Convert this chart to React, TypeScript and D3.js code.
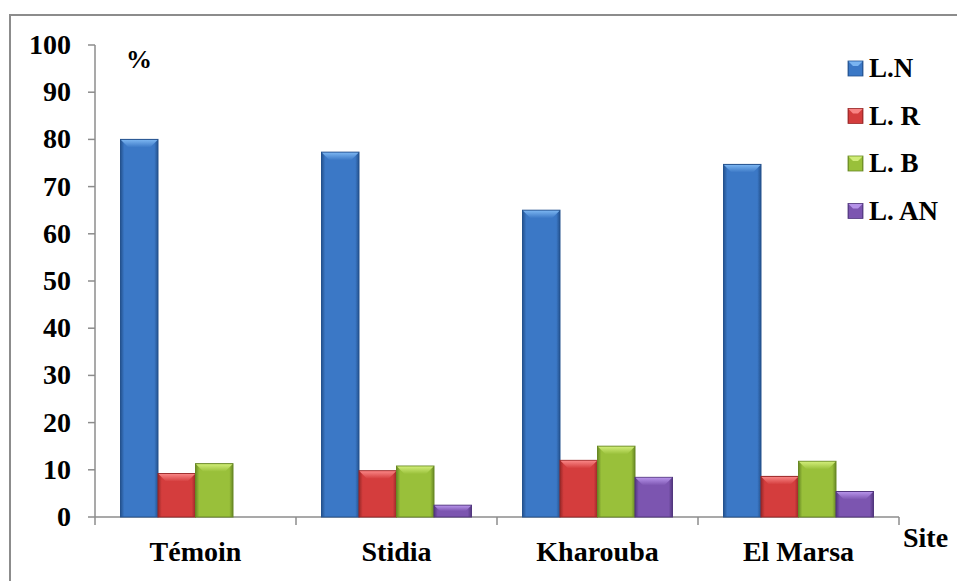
import React from 'react';
import * as d3 from 'd3';

// data
const sites = ['Témoin', 'Stidia', 'Kharouba', 'El Marsa'];
const seriesNames = ['L.N', 'L. R', 'L. B', 'L. AN'];
const valLN = [80, 77.3, 65, 74.7];
const valLR = [9.2, 9.8, 12, 8.6];
const valLB = [11.3, 10.8, 15, 11.8];
const valLAN = [0, 2.5, 8.4, 5.4];
const yTicks = [0, 10, 20, 30, 40, 50, 60, 70, 80, 90, 100];

const palettes = [
  { base: '#3b78c6', light: '#7ab4f0', dark: '#24528e' },
  { base: '#d43d3d', light: '#f88484', dark: '#9a2828' },
  { base: '#99c03a', light: '#d0ec78', dark: '#688824' },
  { base: '#7c55b0', light: '#b592e8', dark: '#52377e' },
];

const W = 957;
const H = 581;
const FONT = "'Liberation Serif', 'Times New Roman', serif";

const App = () => {
  const values = [valLN, valLR, valLB, valLAN];

  const x0 = d3.scaleBand<string>().domain(sites).range([95, 899]).padding(0);
  const x1 = d3.scaleBand<string>()
    .domain(seriesNames)
    .range([0, x0.bandwidth()])
    .paddingInner(0)
    .paddingOuter(0.68);
  const y = d3.scaleLinear().domain([0, 100]).range([517, 45]);

  const bevel = 8;
  const txt = { fontFamily: FONT, fontWeight: 700 as const };

  return (
    <svg width={W} height={H} style={{ display: 'block', position: 'absolute', left: 0, top: 0 }}>
      <defs>
        {palettes.map((p, i) => (
          <linearGradient key={i} id={`g${i}`} x1="0" x2="1" y1="0" y2="0">
            <stop offset="0" stopColor={p.dark} />
            <stop offset="0.1" stopColor={p.base} />
            <stop offset="0.5" stopColor={p.base} />
            <stop offset="0.9" stopColor={p.base} />
            <stop offset="1" stopColor={p.dark} />
          </linearGradient>
        ))}
        {palettes.map((p, i) => (
          <linearGradient key={'t' + i} id={`t${i}`} x1="0" x2="0" y1="0" y2="1">
            <stop offset="0" stopColor={p.light} />
            <stop offset="1" stopColor={p.base} />
          </linearGradient>
        ))}
      </defs>
      <rect x={0} y={0} width={W} height={H} fill="#fff" />
      {/* chart frame, only top and left visible */}
      <rect x={10} y={15} width={1000} height={700} fill="none" stroke="#8c8c8c" strokeWidth={2} />

      {/* y axis */}
      <line x1={95} x2={95} y1={y(100)} y2={y(0)} stroke="#8c8c8c" strokeWidth={1.5} />
      {yTicks.map(t => (
        <g key={t}>
          <line x1={88} x2={95} y1={y(t)} y2={y(t)} stroke="#8c8c8c" strokeWidth={1.5} />
          <text x={71} y={y(t) + 9} textAnchor="end" style={txt} fontSize={28} fill="#000">
            {t}
          </text>
        </g>
      ))}
      <text x={126} y={68} style={txt} fontSize={26}>%</text>

      {/* x axis */}
      <line x1={95} x2={899} y1={517} y2={517} stroke="#8c8c8c" strokeWidth={1.5} />
      {[...sites.map(s => x0(s) as number), 899].map((v, i) => (
        <line key={i} x1={v} x2={v} y1={517} y2={525} stroke="#8c8c8c" strokeWidth={1.5} />
      ))}
      {sites.map(s => (
        <text key={s} x={(x0(s) as number) + x0.bandwidth() / 2} y={561} textAnchor="middle"
          style={txt} fontSize={28}>
          {s}
        </text>
      ))}
      <text x={903} y={547} style={txt} fontSize={28}>Site</text>

      {/* bars */}
      {sites.map((s, si) => (
        <g key={s} transform={`translate(${x0(s)},0)`}>
          {seriesNames.map((n, ni) => {
            const v = values[ni][si];
            if (!v) return null;
            const bx = x1(n) as number;
            const bw = x1.bandwidth();
            const by = y(v);
            const bh = y(0) - by;
            const bv = Math.min(bevel, bh / 2);
            return (
              <g key={n}>
                <rect x={bx} y={by} width={bw} height={bh} fill={`url(#g${ni})`}
                  stroke={palettes[ni].dark} strokeWidth={1} />
                <path
                  d={`M${bx + 0.5},${by + 0.5}L${bx + bw - 0.5},${by + 0.5}L${bx + bw - bv},${by + bv}L${bx + bv},${by + bv}Z`}
                  fill={`url(#t${ni})`} />
              </g>
            );
          })}
        </g>
      ))}

      {/* legend */}
      {seriesNames.map((n, i) => {
        const ly = 68 + i * 47.5;
        return (
          <g key={n}>
            <rect x={848} y={ly - 7} width={15} height={15} fill={`url(#g${i})`}
              stroke={palettes[i].dark} strokeWidth={0.8} />
            <path d={`M848.5,${ly - 6.5}L862.5,${ly - 6.5}L858,${ly - 2}L853,${ly - 2}Z`} fill={palettes[i].light} />
            <text x={869} y={ly + 9} style={txt} fontSize={27}>{n}</text>
          </g>
        );
      })}
    </svg>
  );
};

export default App;
